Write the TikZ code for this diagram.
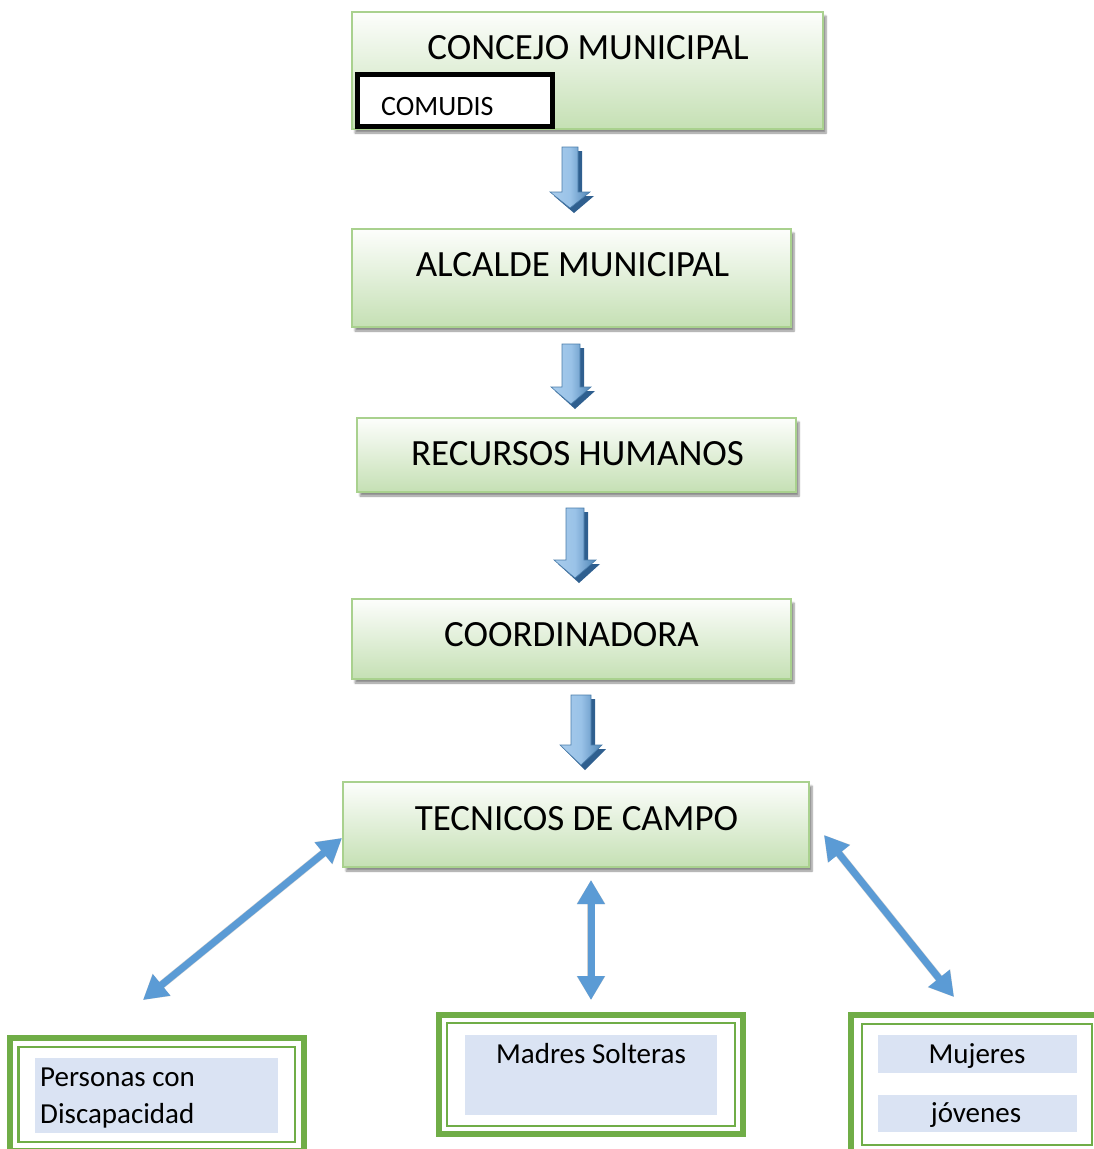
\documentclass[tikz,border=0pt]{standalone}
\usepackage{fontspec}
\setmainfont{Carlito}
\usetikzlibrary{arrows.meta,shadows.blur}
\definecolor{boxgreen}{HTML}{C5E0B4}
\definecolor{boxborder}{HTML}{A9D18E}
\definecolor{frameg}{HTML}{70AD47}
\definecolor{fillblue}{HTML}{DAE3F3}
\definecolor{arrlight}{HTML}{A9CCEC}
\definecolor{arrmid}{HTML}{5B9BD5}
\definecolor{arrdark}{HTML}{2F5F8F}
\tikzset{
  tbox/.style={draw=boxborder, line width=2.4pt, top color=white!96!boxgreen, bottom color=boxgreen,
    inner sep=0pt, blur shadow={shadow xshift=3pt, shadow yshift=-4pt, shadow blur steps=6, shadow opacity=45}},
  tlabel/.style={font=\fontsize{37}{44}\selectfont, anchor=base, inner sep=0pt},
  slabel/.style={font=\fontsize{29}{36}\selectfont, anchor=base, inner sep=0pt},
  bluebox/.style={fill=fillblue, draw=none, inner sep=0pt},
  outerframe/.style={draw=frameg, line width=6pt},
  innerframe/.style={draw=frameg, line width=2.5pt},
  dblarrow/.style={draw=arrmid, line width=7pt, {Triangle[length=24pt,width=26pt]}-{Triangle[length=24pt,width=26pt]}},
  dblshadow/.style={draw=black, opacity=0.18, line width=8pt, {Triangle[length=24pt,width=27pt]}-{Triangle[length=24pt,width=27pt]}}
}
% cx, ytop, ytip, shaft half width, head half width, head length
\newcommand\blockarrow[6]{%
  \fill[arrdark] ({#1-#4+4},{#2+4}) -- ({#1+#4+4},{#2+4}) -- ({#1+#4+4},{#3-#6+4}) -- ({#1+#5+4},{#3-#6+4})
     -- ({#1+4},{#3+5}) -- ({#1-#5+4},{#3-#6+4}) -- ({#1-#4+4},{#3-#6+4}) -- cycle;
  \shade[left color=arrlight, right color=arrmid!85!black, middle color=arrlight!80!arrmid, draw=arrmid!80!black, line width=0.6pt]
     ({#1-#4},{#2}) -- ({#1+#4},{#2}) -- ({#1+#4},{#3-#6}) -- ({#1+#5},{#3-#6})
     -- ({#1},{#3}) -- ({#1-#5},{#3-#6}) -- ({#1-#4},{#3-#6}) -- cycle;
}
\begin{document}
\begin{tikzpicture}[x=1pt,y=-1pt]
\useasboundingbox (0,0) rectangle (1094,1149);
\clip (0,0) rectangle (1094,1149);

% title boxes
\node[tbox, minimum width=471pt, minimum height=117pt] (concejo) at (587.5,70.5) {};
\node[tlabel] (concejoT) at (588,59) {CONCEJO MUNICIPAL};
\draw[line width=5pt, fill=white] (357.5,74.5) rectangle (552.5,126.5);
\node[font=\fontsize{28}{34}\selectfont, anchor=base west, inner sep=0pt] (comudis) at (381,115) {COMUDIS};

\node[tbox, minimum width=439pt, minimum height=98pt] (alcalde) at (571.5,278) {};
\node[tlabel] (alcaldeT) at (572.5,276) {ALCALDE MUNICIPAL};

\node[tbox, minimum width=439pt, minimum height=74pt] (recursos) at (576.5,455) {};
\node[tlabel] (recursosT) at (577.5,465) {RECURSOS HUMANOS};

\node[tbox, minimum width=439pt, minimum height=80pt] (coord) at (571.5,639) {};
\node[tlabel] (coordT) at (571.5,646) {COORDINADORA};

\node[tbox, minimum width=466pt, minimum height=85pt] (tecnicos) at (576,824.5) {};
\node[tlabel] (tecnicosT) at (576.5,830) {TECNICOS DE CAMPO};

% down block arrows
\blockarrow{570}{147}{208}{8}{20}{16}
\blockarrow{571}{344}{404}{9}{20}{17}
\blockarrow{575}{508}{578}{9}{21}{18}
\blockarrow{581}{695}{765}{10}{21}{20}

% double arrows
\coordinate (lt) at (342,838);
\coordinate (lb) at (143,1000);
\coordinate (mt) at (591,880);
\coordinate (mb) at (591,1000);
\coordinate (rt) at (824,835);
\coordinate (rb) at (954,997);
\begin{scope}[shift={(3,3)}]
\draw[dblshadow] (lt) -- (lb);
\draw[dblshadow] (mt) -- (mb);
\draw[dblshadow] (rt) -- (rb);
\end{scope}
\draw[dblarrow] (lt) -- (lb);
\draw[dblarrow] (mt) -- (mb);
\draw[dblarrow] (rt) -- (rb);

% bottom boxes
\draw[outerframe] (10,1038) rectangle (304,1151);
\draw[innerframe] (18.5,1047) rectangle (295,1142);
\node[bluebox, minimum width=243pt, minimum height=75pt] (persBox) at (156.5,1095.5) {};
\node[slabel, anchor=base west] (pers1) at (40,1086) {Personas con};
\node[slabel, anchor=base west] (pers2) at (40,1123) {Discapacidad};

\draw[outerframe] (439,1015) rectangle (743,1134);
\draw[innerframe] (447,1023) rectangle (735,1126);
\node[bluebox, minimum width=252pt, minimum height=80pt] (madBox) at (591,1075) {};
\node[slabel] (mad) at (591,1063) {Madres Solteras};

\draw[outerframe] (851,1015) rectangle (1103,1152);
\draw[innerframe] (862,1024) rectangle (1092,1145);
\node[bluebox, minimum width=199pt, minimum height=38pt] (mujBox) at (977.5,1054) {};
\node[slabel] (muj) at (977,1063) {Mujeres};
\node[bluebox, minimum width=199pt, minimum height=37pt] (jovBox) at (977.5,1113.5) {};
\node[slabel] (jov) at (976,1122) {jóvenes};
\end{tikzpicture}
\end{document}
